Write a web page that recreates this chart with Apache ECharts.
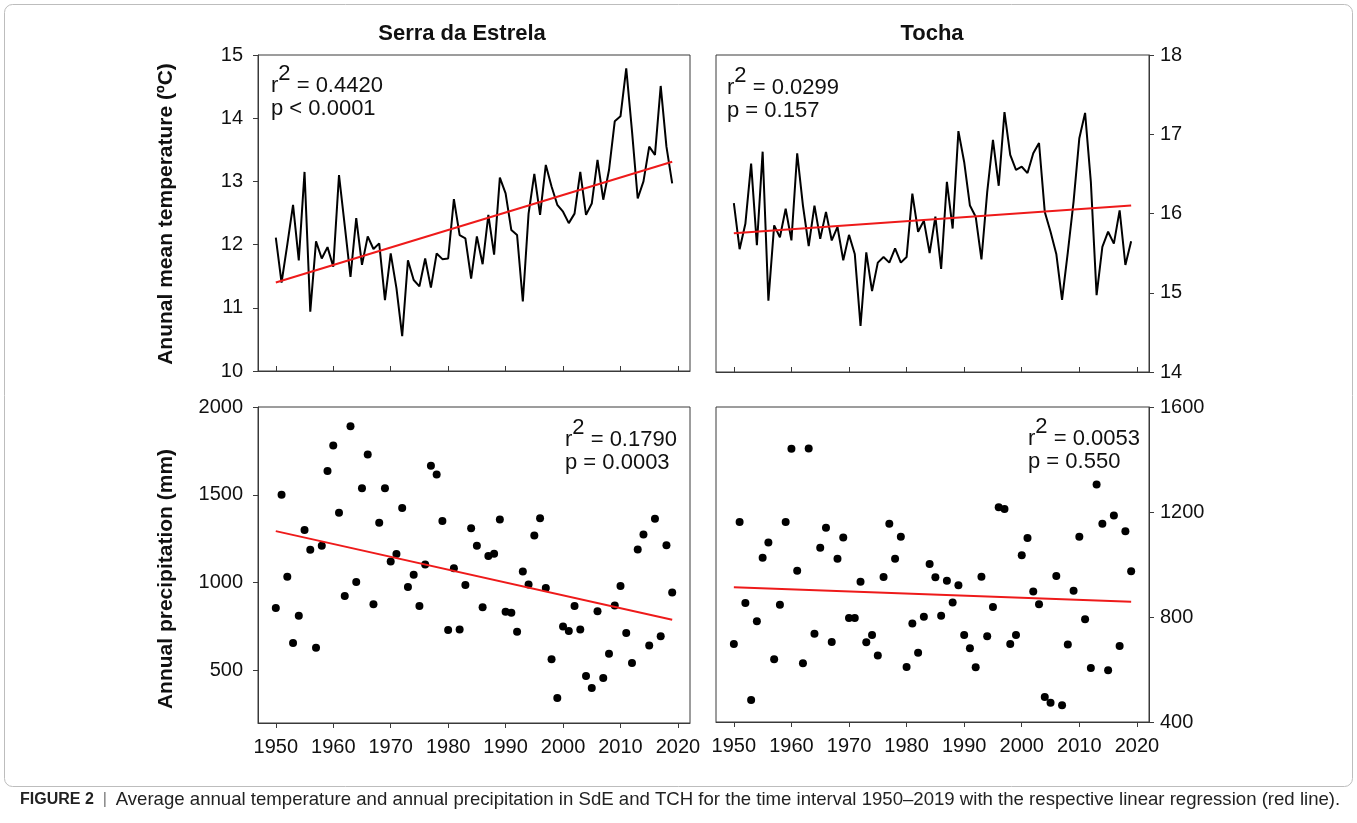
<!DOCTYPE html>
<html><head><meta charset="utf-8">
<script src="https://cdn.jsdelivr.net/npm/echarts@6/dist/echarts.min.js"></script>
<style>html,body{margin:0;padding:0;background:#fff;}#c{width:1357px;height:823px;}</style>
</head><body><div id="c"></div>
<script>
const years = [1950,1951,1952,1953,1954,1955,1956,1957,1958,1959,
1960,1961,1962,1963,1964,1965,1966,1967,1968,1969,
1970,1971,1972,1973,1974,1975,1976,1977,1978,1979,
1980,1981,1982,1983,1984,1985,1986,1987,1988,1989,
1990,1991,1992,1993,1994,1995,1996,1997,1998,1999,
2000,2001,2002,2003,2004,2005,2006,2007,2008,2009,
2010,2011,2012,2013,2014,2015,2016,2017,2018,2019];

const tempSdE = [12.11,11.40,12.00,12.63,11.75,13.15,10.94,12.05,11.78,11.96,
11.65,13.10,12.30,11.49,12.42,11.68,12.13,11.93,12.02,11.12,
11.86,11.31,10.55,11.75,11.44,11.34,11.78,11.32,11.86,11.77,
11.78,12.72,12.15,12.10,11.46,12.13,11.69,12.47,11.84,13.06,
12.81,12.23,12.15,11.10,12.49,13.12,12.47,13.26,12.92,12.63,
12.52,12.34,12.49,13.15,12.47,12.65,13.34,12.71,13.18,13.95,
14.03,14.79,13.80,12.73,13.00,13.55,13.42,14.51,13.55,12.97];

const tempTCH = [16.13,15.55,15.87,16.63,15.60,16.78,14.90,15.85,15.70,16.06,
15.66,16.76,16.10,15.59,16.10,15.68,16.02,15.66,15.83,15.41,
15.73,15.49,14.58,15.51,15.02,15.38,15.45,15.38,15.56,15.38,
15.45,16.25,15.77,15.91,15.50,15.96,15.30,16.40,15.81,17.04,
16.65,16.10,15.96,15.42,16.27,16.93,16.35,17.28,16.74,16.55,
16.59,16.51,16.76,16.89,16.02,15.77,15.49,14.91,15.51,16.15,
16.95,17.27,16.40,14.97,15.58,15.77,15.62,16.04,15.35,15.65];

const precSdE = [855,1500,1033,656,811,1300,1187,629,1209,1636,
1780,1397,923,1890,1003,1537,1729,876,1340,1537,
1120,1162,1424,974,1044,866,1103,1666,1615,1350,
730,1082,733,986,1310,1209,859,1151,1164,1359,
834,828,720,1063,989,1268,1367,969,563,343,
750,724,866,733,468,400,836,457,595,870,
980,713,542,1188,1274,642,1363,694,1213,944];

const precTCH = [697,1162,853,484,784,1026,1084,639,847,1162,
1441,976,624,1442,736,1064,1140,705,1022,1103,
796,796,934,704,731,653,952,1155,1022,1106,
610,775,664,801,1002,951,805,938,855,921,
731,681,609,953,727,838,1218,1211,697,731,
1035,1101,897,849,495,473,956,464,695,900,
1106,791,606,1305,1155,597,1187,690,1127,974];

const trendYears = [1950, 2019];
const trendTempSdE = [11.40, 13.31];
const trendTempTCH = [15.75, 16.10];
const trendPrecSdE = [1293, 788];
const trendPrecTCH = [913, 858];

const xTicks = [1950,1960,1970,1980,1990,2000,2010,2020];
const precSdETicks = [500,1000,1500,2000];

const panelTitles = ['Serra da Estrela', 'Tocha'];
const yNames = ['Anunal mean temperature (ºC)', 'Annual precipitation (mm)'];
const stats = [
  ['0.4420', 'p < 0.0001'],
  ['0.0299', 'p = 0.157'],
  ['0.1790', 'p = 0.0003'],
  ['0.0053', 'p = 0.550']
];
const captionHead = 'FIGURE 2';
const captionText = 'Average annual temperature and annual precipitation in SdE and TCH for the time interval 1950–2019 with the respective linear regression (red line).';

const FONT = '"Liberation Sans", Arial, Helvetica, sans-serif';
const AX = '#3a3a3a';
const pair = (xs, ys) => xs.map((x, i) => [x, ys[i]]);
const plain = v => String(v);

function xAx(gi, showLabel, inside) {
  return {
    type: 'value', gridIndex: gi, min: 1946.9, max: 2022.1,
    axisLine: {show: true, onZero: false, lineStyle: {color: AX, width: 1}},
    axisTick: {show: true, inside: inside, length: 5, customValues: xTicks, lineStyle: {color: AX, width: 1}},
    axisLabel: {show: showLabel, customValues: xTicks, formatter: plain, fontSize: 20, color: '#111', fontFamily: FONT, margin: 14},
    splitLine: {show: false}
  };
}
function yAx(gi, pos, min, max, interval, custom) {
  const a = {
    type: 'value', gridIndex: gi, position: pos, min: min, max: max,
    axisLine: {show: true, onZero: false, lineStyle: {color: AX, width: 1}},
    axisTick: {show: true, inside: false, length: 5, lineStyle: {color: AX, width: 1}},
    axisLabel: {fontSize: 20, color: '#111', fontFamily: FONT, margin: pos === 'left' ? 15 : 11, formatter: plain},
    splitLine: {show: false}
  };
  if (custom) { a.axisTick.customValues = custom; a.axisLabel.customValues = custom; }
  else { a.interval = interval; }
  return a;
}
function lineS(xi, data) {
  return {type: 'line', xAxisIndex: xi, yAxisIndex: xi, data: data, symbol: 'none',
    lineStyle: {color: '#000', width: 2}, z: 2};
}
function trendS(xi, data) {
  return {type: 'line', xAxisIndex: xi, yAxisIndex: xi, data: data, symbol: 'none',
    lineStyle: {color: '#ee1a1a', width: 2}, z: 3};
}
function scatS(xi, data) {
  return {type: 'scatter', xAxisIndex: xi, yAxisIndex: xi, data: data, symbol: 'circle',
    symbolSize: 8, itemStyle: {color: '#000', opacity: 1}, z: 2};
}
function statText(x, top, r2, p) {
  return [
    {type: 'text', left: x, top: top - 4, z: 10, style: {
      text: '{r|r}{s|2}{r| = ' + r2 + '}', fill: '#111',
      rich: {
        r: {fontSize: 22, fontFamily: FONT, lineHeight: 34, verticalAlign: 'bottom', fill: '#111'},
        s: {fontSize: 22, fontFamily: FONT, lineHeight: 10, verticalAlign: 'top', fill: '#111'}
      }}},
    {type: 'text', left: x, top: top + 31, z: 10, style: {
      text: p, fontSize: 22, fontFamily: FONT, fill: '#111'}}
  ];
}

const chart = echarts.init(document.getElementById('c'), null, {renderer: 'canvas'});
chart.setOption({
  animation: false,
  backgroundColor: '#fff',
  grid: [
    {left: 258, top: 55, width: 432, height: 316, show: true, borderColor: AX, borderWidth: 1},
    {left: 716, top: 55, width: 433, height: 317, show: true, borderColor: AX, borderWidth: 1},
    {left: 258, top: 407, width: 432, height: 316, show: true, borderColor: AX, borderWidth: 1},
    {left: 716, top: 407, width: 433, height: 315, show: true, borderColor: AX, borderWidth: 1}
  ],
  xAxis: [xAx(0, false, true), xAx(1, false, true), xAx(2, true, false), xAx(3, true, false)],
  yAxis: [
    yAx(0, 'left', 10, 15, 1),
    yAx(1, 'right', 14, 18, 1),
    yAx(2, 'left', 200, 2000, null, precSdETicks),
    yAx(3, 'right', 400, 1600, 400)
  ],
  series: [
    lineS(0, pair(years, tempSdE)),
    trendS(0, pair(trendYears, trendTempSdE)),
    lineS(1, pair(years, tempTCH)),
    trendS(1, pair(trendYears, trendTempTCH)),
    scatS(2, pair(years, precSdE)),
    trendS(2, pair(trendYears, trendPrecSdE)),
    scatS(3, pair(years, precTCH)),
    trendS(3, pair(trendYears, trendPrecTCH))
  ],
  graphic: [
    {type: 'rect', shape: {x: 4.5, y: 4.5, width: 1348, height: 782, r: 8}, z: -1,
      style: {fill: 'none', stroke: '#bdbdbd', lineWidth: 1}},
    {type: 'text', x: 462, y: 34, style: {text: panelTitles[0], font: 'bold 22px ' + FONT, fill: '#111', align: 'center', verticalAlign: 'middle'}},
    {type: 'text', x: 932, y: 34, style: {text: panelTitles[1], font: 'bold 22px ' + FONT, fill: '#111', align: 'center', verticalAlign: 'middle'}},
    {type: 'text', x: 166, y: 214, rotation: Math.PI / 2, style: {text: yNames[0], font: 'bold 21px ' + FONT, fill: '#111', align: 'center', verticalAlign: 'middle'}},
    {type: 'text', x: 166, y: 579, rotation: Math.PI / 2, style: {text: yNames[1], font: 'bold 21px ' + FONT, fill: '#111', align: 'center', verticalAlign: 'middle'}},
    ...statText(271, 67, stats[0][0], stats[0][1]),
    ...statText(727, 69, stats[1][0], stats[1][1]),
    ...statText(565, 421, stats[2][0], stats[2][1]),
    ...statText(1028, 420, stats[3][0], stats[3][1]),
    {type: 'text', left: 20, top: 790, style: {
      text: '{b|' + captionHead + '}{bar|  |  }{n|' + captionText + '}',
      rich: {
        b: {font: 'bold 16px ' + FONT, fill: '#222', verticalAlign: 'middle', lineHeight: 22},
        bar: {font: '16px ' + FONT, fill: '#777', verticalAlign: 'middle', lineHeight: 22},
        n: {font: '18.6px ' + FONT, fill: '#222', verticalAlign: 'middle', lineHeight: 22}
      }}}
  ]
});
</script></body></html>
